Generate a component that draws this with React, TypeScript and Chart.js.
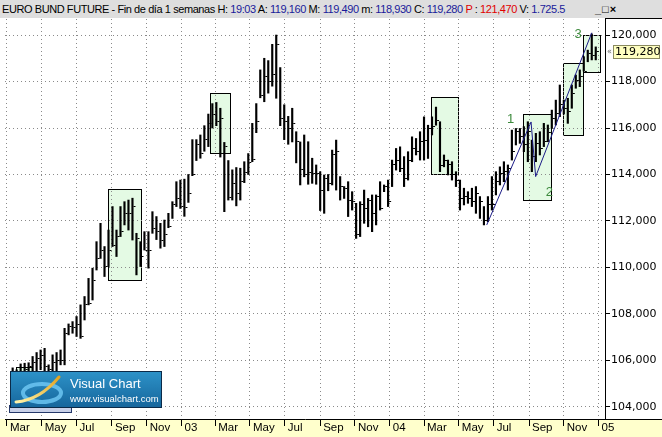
import React, { useEffect, useRef } from 'react';
import { Chart, registerables } from 'chart.js';

Chart.register(...registerables);

// ---- data (weekly bars, EURO BUND FUTURE) ----
const FIRST_WEEK = '2002-03-11';
const weekHigh = [
  105.68, 105.60, 105.85, 105.88, 105.90, 106.17, 106.34, 106.45, 106.52, 105.81,
  106.24, 106.34, 106.45, 107.38, 107.57, 107.67, 107.89, 108.39, 108.75, 109.53,
  109.97, 111.11, 111.90, 110.90, 111.61, 112.62, 111.61, 112.62, 112.83, 112.90,
  112.98, 111.47, 111.11, 111.54, 111.54, 112.40, 112.19, 111.90, 112.04, 112.33,
  112.83, 113.69, 113.76, 113.80, 114.00, 115.50, 115.50, 115.70, 116.10, 116.60,
  117.05, 117.10, 116.85, 115.38, 114.60, 114.20, 114.30, 114.27, 114.55, 114.90,
  116.20, 117.05, 118.50, 119.00, 118.90, 119.60, 120.00, 118.60, 117.00, 116.50,
  116.85, 115.84, 115.40, 115.70, 115.41, 114.70, 114.41, 114.12, 113.98, 114.00,
  115.05, 115.48, 113.91, 113.48, 113.69, 113.26, 112.76, 112.83, 113.33, 112.97,
  113.12, 113.12, 113.69, 113.55, 113.76, 114.62, 115.12, 115.19, 114.77, 114.98,
  115.62, 115.55, 115.84, 116.48, 116.12, 116.48, 116.90, 116.27, 114.84, 114.62,
  114.55, 114.12, 113.76, 113.41, 113.26, 113.41, 113.48, 113.05, 112.62, 113.05,
  113.91, 114.12, 114.33, 114.55, 114.41, 115.91, 115.98, 115.98, 116.06, 116.27,
  115.48, 115.77, 115.84, 116.20, 116.13, 116.77, 117.20, 117.85, 117.20, 117.28,
  117.85, 118.28, 118.50, 119.07, 119.35, 120.05, 119.49,
];
const weekLow = [
  104.73, 104.90, 105.20, 105.30, 105.40, 105.40, 105.50, 105.60, 105.50, 105.30,
  105.40, 105.50, 105.81, 105.81, 107.10, 107.17, 107.03, 106.95, 107.74, 108.39,
  108.60, 109.89, 110.39, 109.61, 110.04, 110.90, 110.47, 111.33, 111.83, 111.61,
  111.18, 109.68, 110.04, 110.75, 109.97, 111.47, 111.20, 110.83, 110.90, 111.71,
  112.11, 112.62, 112.54, 112.20, 112.80, 113.95, 114.60, 114.70, 115.00, 115.20,
  116.00, 116.10, 114.75, 112.40, 112.90, 112.90, 112.65, 112.90, 113.65, 114.00,
  114.55, 115.80, 117.30, 117.13, 117.50, 117.80, 117.28, 116.10, 115.50, 115.30,
  115.40, 114.50, 113.55, 113.90, 113.58, 113.62, 113.58, 112.45, 112.33, 113.30,
  113.55, 113.33, 112.90, 112.97, 112.19, 112.47, 111.25, 111.33, 111.90, 111.75,
  111.54, 111.83, 112.47, 113.26, 112.62, 113.48, 114.19, 114.12, 113.48, 113.76,
  114.55, 114.84, 114.62, 114.62, 114.69, 115.70, 116.12, 114.12, 114.33, 113.98,
  113.76, 113.48, 112.47, 112.69, 112.76, 112.62, 112.33, 112.11, 111.83, 111.97,
  112.47, 113.12, 113.55, 113.69, 113.33, 114.62, 115.27, 115.34, 114.98, 114.55,
  114.12, 114.55, 114.84, 115.20, 115.41, 115.98, 116.13, 116.49, 116.60, 116.20,
  116.85, 117.71, 117.78, 118.45, 118.85, 118.93, 118.93,
];
const weekClose = [
  105.23, 105.30, 105.70, 105.60, 105.75, 105.90, 106.10, 106.20, 105.74, 105.60,
  105.90, 106.00, 106.00, 107.17, 107.46, 107.40, 107.53, 107.03, 108.40, 108.46,
  109.46, 110.39, 110.75, 110.04, 110.75, 110.93, 111.33, 111.54, 112.33, 112.33,
  112.62, 111.26, 110.47, 110.75, 110.75, 111.69, 111.54, 111.18, 111.40, 111.76,
  112.69, 112.97, 112.62, 112.60, 113.20, 114.00, 115.30, 114.90, 115.50, 116.20,
  116.60, 116.30, 116.40, 115.20, 113.00, 113.60, 113.20, 113.70, 114.10, 114.50,
  114.65, 116.30, 117.40, 118.20, 118.00, 118.30, 119.60, 116.40, 116.30, 116.00,
  116.20, 115.40, 114.20, 114.00, 114.10, 114.05, 114.05, 113.33, 113.83, 113.62,
  114.84, 114.98, 113.48, 113.41, 112.90, 112.83, 111.40, 112.69, 112.55, 112.90,
  112.33, 113.05, 112.55, 113.48, 112.83, 114.41, 114.62, 114.26, 113.84, 114.62,
  115.12, 114.98, 115.40, 115.48, 115.98, 116.05, 116.34, 114.40, 114.62, 114.41,
  113.98, 113.76, 112.97, 113.05, 112.97, 112.83, 113.19, 112.83, 112.00, 112.69,
  112.69, 113.69, 114.05, 114.12, 114.26, 114.98, 115.84, 115.62, 115.30, 115.84,
  114.77, 115.34, 115.10, 115.41, 115.80, 116.41, 116.63, 116.99, 116.85, 116.70,
  117.50, 118.05, 118.20, 118.45, 119.20, 119.10, 119.28,
];

const xTickDates = [
  '2002-03-01', '2002-05-01', '2002-07-01', '2002-09-01', '2002-11-01', '2003-01-01',
  '2003-03-01', '2003-05-01', '2003-07-01', '2003-09-01', '2003-11-01', '2004-01-01',
  '2004-03-01', '2004-05-01', '2004-07-01', '2004-09-01', '2004-11-01', '2005-01-01',
];
const xTickLabels = [
  'Mar', 'May', 'Jul', 'Sep', 'Nov', '03',
  'Mar', 'May', 'Jul', 'Sep', 'Nov', '04',
  'Mar', 'May', 'Jul', 'Sep', 'Nov', '05',
];
const yTicks = [104, 106, 108, 110, 112, 114, 116, 118, 120];

// highlighted boxes (week index range, price range)
const boxFrom = [0.95, 23.9, 49.5, 104.7, 127.9, 137.7, 142.9];
const boxTo = [4.8, 32.1, 54.5, 111.6, 134.8, 142.9, 147.0];
const boxTop = [105.72, 113.38, 117.50, 117.32, 116.59, 118.78, 120.0];
const boxBottom = [104.3, 109.46, 114.92, 114.01, 112.90, 115.70, 118.43];

// zig-zag line (week index, price)
const zigWeek = [118.7, 129.8, 130.95, 145.0];
const zigPrice = [111.83, 116.26, 113.91, 120.10];

// wave numbers
const waveText = ['1', '2', '3'];
const waveWeek = [124.7, 134.4, 141.6];
const wavePrice = [116.39, 113.25, 120.04];

const Y_MIN = 103.48;
const Y_MAX = 120.69;
const X_MIN = 55.6; // days since 2002-01-01
const X_MAX = 1107.2;

const DAY = 86400000;
const EPOCH = Date.UTC(2002, 0, 1);
const toDay = (s: string) => {
  const [yy, mm, dd] = s.split('-').map(Number);
  return (Date.UTC(yy, mm - 1, dd) - EPOCH) / DAY;
};
const firstDay = toDay(FIRST_WEEK);
const weekDay = (i: number) => firstDay + 7 * i;
const fmt = (v: number) => v.toFixed(3).replace('.', ',');

export default function App() {
  const ref = useRef<HTMLCanvasElement | null>(null);

  useEffect(() => {
    document.body.style.margin = '0';
    const canvas = ref.current;
    if (!canvas) return;

    const tick = document.createElement('canvas');
    tick.width = 8;
    tick.height = 1;
    const tctx = tick.getContext('2d')!;
    tctx.fillStyle = '#000';
    tctx.fillRect(5, 0, 2, 1);

    const bgPlugin = {
      id: 'bgBoxes',
      beforeDraw(chart: any) {
        const { ctx, chartArea, scales } = chart;
        const W = chart.width;
        const H = chart.height;
        ctx.save();
        ctx.fillStyle = '#ffffff';
        ctx.fillRect(0, 0, W, H);
        ctx.fillStyle = '#ffffcc';
        ctx.fillRect(0, chartArea.bottom, W, H - chartArea.bottom);
        ctx.beginPath();
        ctx.rect(chartArea.left, chartArea.top, chartArea.right - chartArea.left, chartArea.bottom - chartArea.top);
        ctx.clip();
        for (let i = 0; i < boxFrom.length; i++) {
          const x1 = Math.round(scales.x.getPixelForValue(weekDay(boxFrom[i]))) + 0.5;
          const x2 = Math.round(scales.x.getPixelForValue(weekDay(boxTo[i]))) + 0.5;
          const y1 = Math.round(scales.y.getPixelForValue(boxTop[i])) + 0.5;
          const y2 = Math.round(scales.y.getPixelForValue(boxBottom[i])) + 0.5;
          ctx.fillStyle = '#e4fae4';
          ctx.fillRect(x1, y1, x2 - x1, y2 - y1);
          ctx.strokeStyle = '#000';
          ctx.lineWidth = 1;
          ctx.strokeRect(x1, y1, x2 - x1, y2 - y1);
        }
        ctx.restore();
      },
    };

    const overlayPlugin = {
      id: 'overlay',
      afterDatasetsDraw(chart: any) {
        const { ctx, scales } = chart;
        ctx.save();
        ctx.strokeStyle = '#1c1c88';
        ctx.lineWidth = 1;
        ctx.beginPath();
        zigWeek.forEach((w, i) => {
          const px = scales.x.getPixelForValue(weekDay(w));
          const py = scales.y.getPixelForValue(zigPrice[i]);
          if (i === 0) ctx.moveTo(px, py);
          else ctx.lineTo(px, py);
        });
        ctx.stroke();
        ctx.fillStyle = '#3d8a3d';
        ctx.font = '13px "Liberation Sans"';
        ctx.textAlign = 'center';
        ctx.textBaseline = 'middle';
        waveText.forEach((t, i) => {
          ctx.fillText(t, scales.x.getPixelForValue(weekDay(waveWeek[i])), scales.y.getPixelForValue(wavePrice[i]));
        });
        ctx.restore();
      },
      afterDraw(chart: any) {
        const { ctx, chartArea, scales } = chart;
        const W = chart.width;
        ctx.save();
        ctx.strokeStyle = '#000';
        ctx.lineWidth = 1;
        ctx.beginPath();
        ctx.moveTo(chartArea.right, Math.round(chartArea.bottom) + 0.5);
        ctx.lineTo(W, Math.round(chartArea.bottom) + 0.5);
        ctx.moveTo(chartArea.right, Math.round(chartArea.top) - 0.5);
        ctx.lineTo(W, Math.round(chartArea.top) - 0.5);
        ctx.stroke();
        const last = weekClose[weekClose.length - 1];
        const py = Math.round(scales.y.getPixelForValue(last));
        const bx = Math.round(chartArea.right) + 8;
        ctx.fillStyle = '#ffffc0';
        ctx.fillRect(bx, py - 7, 47, 14);
        ctx.strokeStyle = '#8a8a60';
        ctx.strokeRect(bx + 0.5, py - 6.5, 46, 13);
        ctx.fillStyle = '#000';
        ctx.font = '11px "DejaVu Sans"';
        ctx.textAlign = 'left';
        ctx.textBaseline = 'middle';
        ctx.fillText(fmt(last), bx + 2, py + 0.5);
        ctx.fillStyle = '#666';
        ctx.font = '8px "DejaVu Sans"';
        ctx.fillText('«', bx - 6, py);
        ctx.restore();
      },
    };

    const chart = new Chart(canvas, {
      type: 'bar',
      data: {
        datasets: [
          {
            type: 'scatter',
            data: weekClose.map((c, i) => ({ x: weekDay(i), y: c })),
            pointStyle: tick as any,
            pointRadius: 2,
            showLine: false,
            order: 1,
          } as any,
          {
            type: 'bar',
            data: weekHigh.map((h, i) => ({ x: weekDay(i), y: [weekLow[i], h] })),
            backgroundColor: '#000',
            borderWidth: 0,
            barThickness: 1.5,
            grouped: false,
            order: 2,
          } as any,
        ],
      },
      options: {
        animation: false,
        responsive: false,
        maintainAspectRatio: false,
        events: [],
        layout: { padding: { top: 19, left: 0, right: 0, bottom: 0 } },
        plugins: { legend: { display: false }, tooltip: { enabled: false } },
        scales: {
          x: {
            type: 'linear',
            position: 'bottom',
            min: X_MIN,
            max: X_MAX,
            offset: false,
            grid: { color: '#8a8a8a', lineWidth: 1, offset: false, drawTicks: true, tickLength: 7, tickColor: '#000', tickWidth: 1 },
            border: { display: true, color: '#000', width: 1, dash: [1, 3] },
            ticks: {
              autoSkip: false,
              maxRotation: 0,
              minRotation: 0,
              align: 'start',
              labelOffset: 3,
              padding: -5,
              color: '#000',
              font: { family: 'Liberation Sans', size: 11.5 },
              callback: (_v: any, idx: number) => xTickLabels[idx],
            },
            afterBuildTicks: (s: any) => {
              s.ticks = xTickDates.map((d) => ({ value: toDay(d) }));
            },
            afterFit: (s: any) => {
              s.height = 18;
            },
          } as any,
          y: {
            type: 'linear',
            position: 'right',
            min: Y_MIN,
            max: Y_MAX,
            grid: { color: '#8a8a8a', lineWidth: 1, drawTicks: true, tickLength: 5, tickColor: '#000', tickWidth: 1 },
            border: { display: true, color: '#000', width: 1, dash: [1, 3] },
            ticks: {
              padding: 1,
              color: '#000',
              font: { family: 'DejaVu Sans', size: 11 },
              callback: (v: any) => fmt(Number(v)),
            },
            afterBuildTicks: (s: any) => {
              s.ticks = yTicks.map((v) => ({ value: v }));
            },
            afterFit: (s: any) => {
              s.width = 57;
            },
          } as any,
        },
      },
      plugins: [bgPlugin, overlayPlugin],
    });

    return () => chart.destroy();
  }, []);

  const blue = '#1a1a9a';
  const red = '#e00000';
  return (
    <div style={{ position: 'relative', width: 662, height: 437, overflow: 'hidden', background: '#fff' }}>
      <canvas ref={ref} width={662} height={437} style={{ position: 'absolute', left: 0, top: 0, width: 662, height: 437 }} />
      <div
        style={{
          position: 'absolute', left: 0, top: 0, width: 662, height: 18, background: '#dedede',
          fontFamily: '"Liberation Sans", Arial, sans-serif', fontSize: 11, lineHeight: '18px', whiteSpace: 'nowrap', color: '#000',
        }}
      >
        <span style={{ position: 'absolute', left: 2, top: 0, letterSpacing: '-0.42px' }}>
          EURO BUND FUTURE - Fin de día 1 semanas H: <span style={{ color: blue }}>19:03</span> A:{' '}
          <span style={{ color: blue }}>119,160</span> M: <span style={{ color: blue }}>119,490</span> m:{' '}
          <span style={{ color: blue }}>118,930</span> C: <span style={{ color: blue }}>119,280</span>{' '}
          <span style={{ color: red }}>P</span> : <span style={{ color: red }}>121,470</span> V:{' '}
          <span style={{ color: blue }}>1.725.5</span>
        </span>
        <span style={{ position: 'absolute', left: 595, top: 0, fontWeight: 'bold', letterSpacing: '1px' }}>_□×</span>
      </div>
      <div style={{ position: 'absolute', left: 9, top: 405, width: 61, height: 6, background: '#c8d0e8', border: '1px solid #24386a' }} />
      <svg style={{ position: 'absolute', left: 10, top: 371 }} width={152} height={37}>
        <defs>
          <linearGradient id="vcbg" x1="0" y1="0" x2="0" y2="1">
            <stop offset="0" stopColor="#2d92c8" />
            <stop offset="1" stopColor="#16669c" />
          </linearGradient>
          <linearGradient id="vcpen" x1="0" y1="1" x2="1" y2="0">
            <stop offset="0" stopColor="#fff3a8" />
            <stop offset="1" stopColor="#e2a21e" />
          </linearGradient>
        </defs>
        <rect x={0.5} y={0.5} width={151} height={36} fill="url(#vcbg)" stroke="#0b2a48" />
        <ellipse cx={32} cy={22} rx={19} ry={9} fill="none" stroke="#6cc6f2" strokeWidth={4} opacity={0.85} />
        <path d="M6 31 Q 30 29 49 6" stroke="url(#vcpen)" strokeWidth={3} fill="none" strokeLinecap="round" />
        <text x={60} y={16.5} fill="#ffffff" fontFamily="Liberation Sans" fontSize={13}>Visual Chart</text>
        <text x={60} y={30.5} fill="#ffffff" fontFamily="Liberation Sans" fontSize={9.5}>www.visualchart.com</text>
      </svg>
    </div>
  );
}
